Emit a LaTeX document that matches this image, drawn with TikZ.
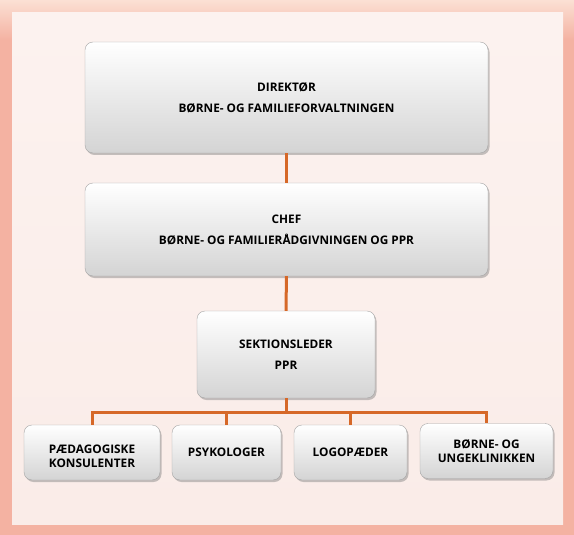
\documentclass[tikz,border=0pt]{standalone}
\usepackage{fontspec}
\setmainfont{Open Sans}
\usetikzlibrary{shadows}

\definecolor{linkorange}{RGB}{214,104,40}
\definecolor{framepeach}{RGB}{251,224,212}
\definecolor{framesalmon}{RGB}{244,178,162}
\definecolor{paneltop}{RGB}{252,242,239}
\definecolor{panelbottom}{RGB}{250,236,232}

\tikzstyle{unit}=[draw=black!35,rounded corners=8pt,top color=white,bottom color=black!17,
  drop shadow={shadow xshift=1.5pt,shadow yshift=-2pt,opacity=0.45},
  font=\bfseries\fontsize{11.8}{14}\selectfont,align=center,inner sep=0pt,minimum height=55pt]
\tikzstyle{big unit}=[unit,minimum width=403pt]
\tikzstyle{link}=[draw,line width=3pt,linkorange]

\begin{document}
\begin{tikzpicture}[x=1pt,y=-1pt]
     \useasboundingbox (0,0) rectangle (574,535);
     % Background frame and panel
     \fill[framesalmon] (0,0) rectangle (574,535);
     \fill[top color=framepeach,bottom color=framesalmon] (0,0) rectangle (574,40);
     \fill[top color=paneltop,bottom color=panelbottom] (12,13) rectangle (563,524);

     % First we draw the units
     \node[big unit,minimum height=111pt] (dir) at (286.5,97.5) {DIREKTØR\\[7pt]BØRNE- OG FAMILIEFORVALTNINGEN};
     \node[big unit,minimum height=93pt] (chef) at (286.5,229.5) {CHEF\\[7pt]BØRNE- OG FAMILIERÅDGIVNINGEN OG PPR};
     \node[unit,minimum width=178pt,minimum height=87pt] (sek) at (286,354.5) {SEKTIONSLEDER\\[7pt]PPR};

     \foreach \pos/\name/\width/\text in {{(92,452.5)/ped/136/{\rule{0pt}{16pt}PÆDAGOGISKE\\KONSULENTER}},
       {(226.5,452.5)/psy/109/PSYKOLOGER}, {(350.5,452.5)/logo/113/LOGOPÆDER},
       {(486.5,451)/bu/133/{BØRNE- OG\\UNGEKLINIKKEN}}}
     \node[unit,minimum width=\width pt] (\name) at \pos {\text};

     % Connect units with lines
     \coordinate (bus) at (286,412);
     \path[link] (dir) -- (chef);
     \path[link] (chef) -- (sek);
     \foreach \dest in {ped,psy,logo,bu}
     \path[link] (sek.south) -- (bus) -| (\dest.north);
\end{tikzpicture}
\end{document}
